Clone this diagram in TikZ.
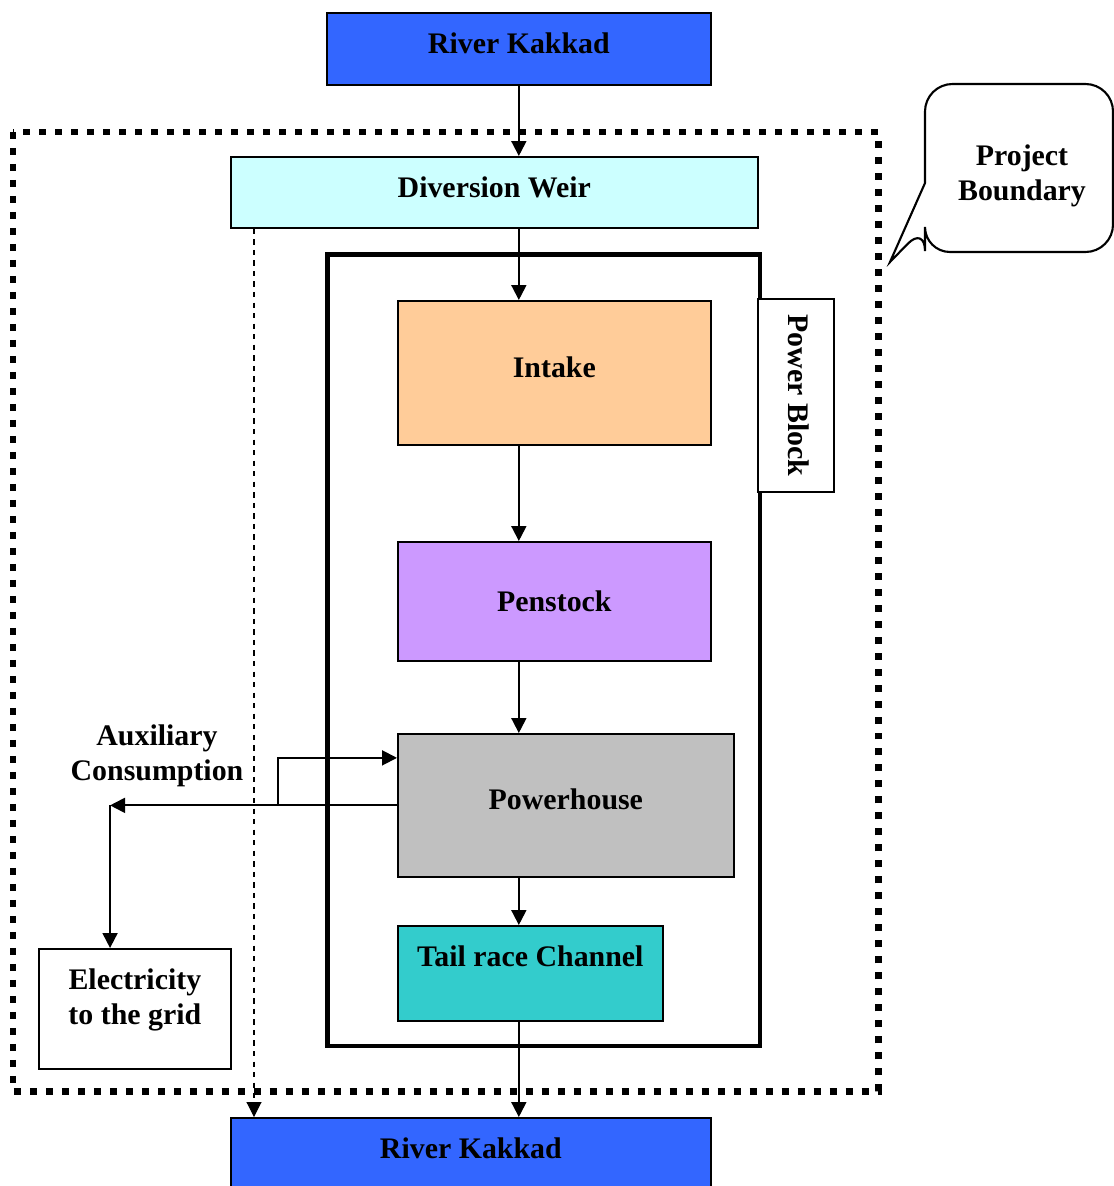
\documentclass[tikz,border=0pt]{standalone}
\usepackage{fontspec}
\setmainfont{Liberation Serif}
\usetikzlibrary{arrows.meta}
\definecolor{riverblue}{HTML}{3366FF}
\definecolor{weircyan}{HTML}{CCFFFF}
\definecolor{intakeorange}{HTML}{FFCC99}
\definecolor{penstockviolet}{HTML}{CC99FF}
\definecolor{housegrey}{HTML}{C0C0C0}
\definecolor{tailteal}{HTML}{33CCCC}

\begin{document}
\begin{tikzpicture}[x=0.02cm,y=-0.02cm,>={Triangle[length=0.3cm,width=0.3cm]},
  box/.style={draw,rectangle,line width=1pt,inner sep=0pt,anchor=north west,
    font=\bfseries\fontsize{17}{20}\selectfont},
  lbl/.style={align=center,font=\bfseries\fontsize{17}{20}\selectfont},
  flow/.style={->,line width=1.1pt}]

    \useasboundingbox (0,0) rectangle (1114,1186);
    \clip (0,0) rectangle (1114,1186);

    % project boundary
    \draw[line width=0.14cm,dash pattern=on 0.14cm off 0.18cm] (13,132) rectangle (878,1091);

    \node[box,fill=riverblue,minimum width=7.68cm,minimum height=1.44cm,text depth=0.24cm] (riverin) at (326,12) {River Kakkad};
    \node[box,fill=weircyan,minimum width=10.54cm,minimum height=1.42cm,text depth=0.22cm] (weir) at (230,156) {Diversion Weir};
    \node[draw,line width=2.6pt,anchor=north west,minimum width=8.66cm,minimum height=15.84cm] (powerblock) at (325,252) {};
    \node[box,anchor=center,rotate=-90,fill=white,minimum width=3.86cm,minimum height=1.52cm,text depth=0.1cm] (blocklabel) at (796,395.5) {Power Block};
    \node[box,fill=intakeorange,minimum width=6.26cm,minimum height=2.88cm,text depth=0.24cm] (intake) at (397,300) {Intake};
    \node[box,fill=penstockviolet,minimum width=6.26cm,minimum height=2.38cm] (penstock) at (397,541) {Penstock};
    \node[box,fill=housegrey,minimum width=6.72cm,minimum height=2.86cm,text depth=0.26cm] (powerhouse) at (397,733) {Powerhouse};
    \node[box,fill=tailteal,minimum width=5.30cm,minimum height=1.90cm,text depth=0.68cm] (tailrace) at (397,925) {Tail race Channel};
    \node[box,fill=riverblue,minimum width=9.60cm,minimum height=2.0cm,text depth=0.8cm] (riverout) at (230,1117) {River Kakkad};
    \node[box,fill=white,align=center,minimum width=3.84cm,minimum height=2.40cm,text depth=0.48cm] (grid) at (38,948) {Electricity\\to the grid};

    \node[lbl] (auxtext) at (157,756) {Auxiliary\\Consumption};

    % callout
    \draw[line width=1.2pt,fill=white] (925,183) [rounded corners=0.55cm] -- (925,84) -- (1113,84) -- (1113,252)
      [rounded corners=0.5cm] -- (925,252) -- (925,226) [sharp corners] -- (890,262) -- cycle;
    \node[lbl] (boundarytext) at (1022,176) {Project\\Boundary};

    % water path
    \draw[flow] (riverin.south) -- (riverin.south |- weir.north);
    \draw[flow] (riverin.south |- weir.south) -- (riverin.south |- intake.north);
    \draw[flow] (riverin.south |- intake.south) -- (riverin.south |- penstock.north);
    \draw[flow] (riverin.south |- penstock.south) -- (riverin.south |- powerhouse.north);
    \draw[flow] (riverin.south |- powerhouse.south) -- (riverin.south |- tailrace.north);
    \draw[flow] (riverin.south |- tailrace.south) -- (riverin.south |- riverout.north);
    \draw[flow,dashed,line width=0.6pt] ([xshift=0.48cm]weir.south west) -- ([xshift=0.48cm]riverout.north west);

    % electricity
    \path (powerhouse.west) -- ++(-5.74cm,0) coordinate (aux);
    \path (powerhouse.west) -- ++(-2.38cm,0) coordinate (tap);
    \draw[flow] (powerhouse.west) -- (aux);
    \draw[flow] (aux) -- (aux |- grid.north);
    \draw[flow] (tap) |- ([yshift=0.95cm]powerhouse.west);

\end{tikzpicture}
\end{document}
